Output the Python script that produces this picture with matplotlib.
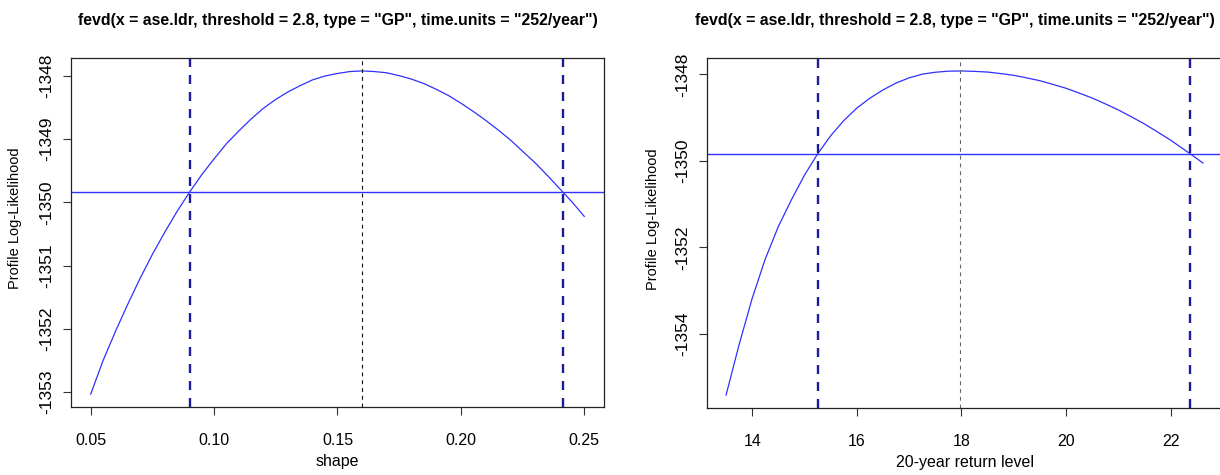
import matplotlib
matplotlib.use("Agg")
import matplotlib.pyplot as plt
from matplotlib import font_manager

# ---- data -------------------------------------------------------------
title_text = 'fevd(x = ase.ldr, threshold = 2.8, type = "GP", time.units = "252/year")'
ylabel_text = "Profile Log-Likelihood"

# profile likelihood for the shape parameter
shape_x = [0.050, 0.055, 0.060, 0.065, 0.070, 0.075, 0.080, 0.085, 0.090,
           0.095, 0.100, 0.105, 0.110, 0.115, 0.120, 0.125, 0.130, 0.135,
           0.140, 0.145, 0.150, 0.155, 0.160, 0.165, 0.170, 0.175, 0.180,
           0.185, 0.190, 0.195, 0.200, 0.205, 0.210, 0.215, 0.220, 0.225,
           0.230, 0.235, 0.240, 0.245, 0.250]
shape_ll = [-1353.03, -1352.50, -1352.04, -1351.61, -1351.20, -1350.82,
            -1350.47, -1350.14, -1349.84, -1349.56, -1349.31, -1349.07,
            -1348.87, -1348.68, -1348.51, -1348.37, -1348.25, -1348.15,
            -1348.06, -1348.00, -1347.96, -1347.93, -1347.92, -1347.93,
            -1347.95, -1347.995, -1348.05, -1348.12, -1348.21, -1348.31,
            -1348.43, -1348.56, -1348.70, -1348.85, -1349.01, -1349.19,
            -1349.37, -1349.57, -1349.78, -1349.99, -1350.22]
shape_ci = [0.0902, 0.2415]
shape_mle = 0.160
shape_cut = -1349.84
shape_xticks = [0.05, 0.10, 0.15, 0.20, 0.25]
shape_xticklabels = ["0.05", "0.10", "0.15", "0.20", "0.25"]
shape_yticks = [-1353, -1352, -1351, -1350, -1349, -1348]

# profile likelihood for the 20-year return level
rl_x = [13.50, 13.75, 14.00, 14.25, 14.50, 14.75, 15.00, 15.25, 15.50,
        15.75, 16.00, 16.25, 16.50, 16.75, 17.00, 17.25, 17.50, 17.75,
        18.00, 18.25, 18.50, 18.75, 19.00, 19.25, 19.50, 19.75, 20.00,
        20.25, 20.50, 20.75, 21.00, 21.25, 21.50, 21.75, 22.00, 22.25,
        22.50, 22.62]
rl_ll = [-1355.42, -1354.25, -1353.18, -1352.27, -1351.52, -1350.90,
         -1350.33, -1349.84, -1349.42, -1349.07, -1348.78, -1348.55,
         -1348.36, -1348.20, -1348.08, -1347.995, -1347.95, -1347.925,
         -1347.92, -1347.93, -1347.945, -1347.98, -1348.02, -1348.08,
         -1348.145, -1348.23, -1348.32, -1348.43, -1348.545, -1348.68,
         -1348.82, -1348.98, -1349.145, -1349.33, -1349.52, -1349.73,
         -1349.945, -1350.05]
rl_ci = [15.25, 22.38]
rl_mle = 17.98
rl_cut = -1349.84
rl_xticks = [14, 16, 18, 20, 22]
rl_yticks = [-1354, -1352, -1350, -1348]

# ---- fonts ------------------------------------------------------------
available = {f.name for f in font_manager.fontManager.ttflist}
narrow = "Liberation Sans Narrow" if "Liberation Sans Narrow" in available else "Liberation Sans"
regular = "Liberation Sans"

W, H = 1220, 475
fig = plt.figure(figsize=(W / 100, H / 100), dpi=100)


def px_axes(x0, x1, y0, y1):
    """Create axes from pixel edges (y measured from the top)."""
    return fig.add_axes([x0 / W, 1 - y1 / H, (x1 - x0) / W, (y1 - y0) / H])


def r_limits(vals):
    lo, hi = min(vals), max(vals)
    pad = 0.04 * (hi - lo)
    return lo - pad, hi + pad


def draw_panel(ax, x, y, ci, mle, cut, xticks, xticklabels, yticks, xlabel,
               mle_color, title_x=0.5):
    ax.plot(x, y, color="#3030ff", lw=0.9)
    ax.axhline(cut, color="#3030ff", lw=1.0)
    for c in ci:
        ax.axvline(c, color="#1a1a9a", lw=1.7, linestyle=(0, (3.8, 3.4)))
    ax.axvline(mle, color=mle_color, lw=0.8, linestyle=(0, (3.5, 3.5)))

    ax.set_xlim(*r_limits(x))
    ax.set_ylim(*r_limits(y))

    ax.set_xticks(xticks)
    ax.set_xticklabels(xticklabels, fontfamily=narrow, fontsize=11.5)
    ax.set_yticks(yticks)
    ax.set_yticklabels([str(v) for v in yticks], fontfamily=regular,
                       fontsize=12.5, rotation=90, va="center")
    ax.tick_params(axis="both", direction="out", length=6, width=0.8,
                   color="#333333")
    ax.tick_params(axis="x", pad=13)
    ax.tick_params(axis="y", pad=6)
    for s in ax.spines.values():
        s.set_linewidth(0.9)
        s.set_color("#222222")

    ax.set_xlabel(xlabel, fontfamily=narrow, fontsize=11.5)
    ax.xaxis.set_label_coords(0.5, -0.135)
    ax.set_ylabel(ylabel_text, fontfamily=regular, fontsize=10.5)
    ax.yaxis.set_label_coords(-0.092, 0.54)
    t = ax.set_title(title_text, fontfamily=narrow, fontweight="bold",
                     fontsize=11.4, pad=24)
    t.set_x(title_x)


ax1 = px_axes(71, 604, 58, 407)
draw_panel(ax1, shape_x, shape_ll, shape_ci, shape_mle, shape_cut,
           shape_xticks, shape_xticklabels, shape_yticks, "shape", "#111111")

ax2 = px_axes(707, 1222, 58, 408)
draw_panel(ax2, rl_x, rl_ll, rl_ci, rl_mle, rl_cut,
           rl_xticks, [str(v) for v in rl_xticks], rl_yticks,
           "20-year return level", "#666666", title_x=0.482)

fig.savefig("out.png", dpi=100)
